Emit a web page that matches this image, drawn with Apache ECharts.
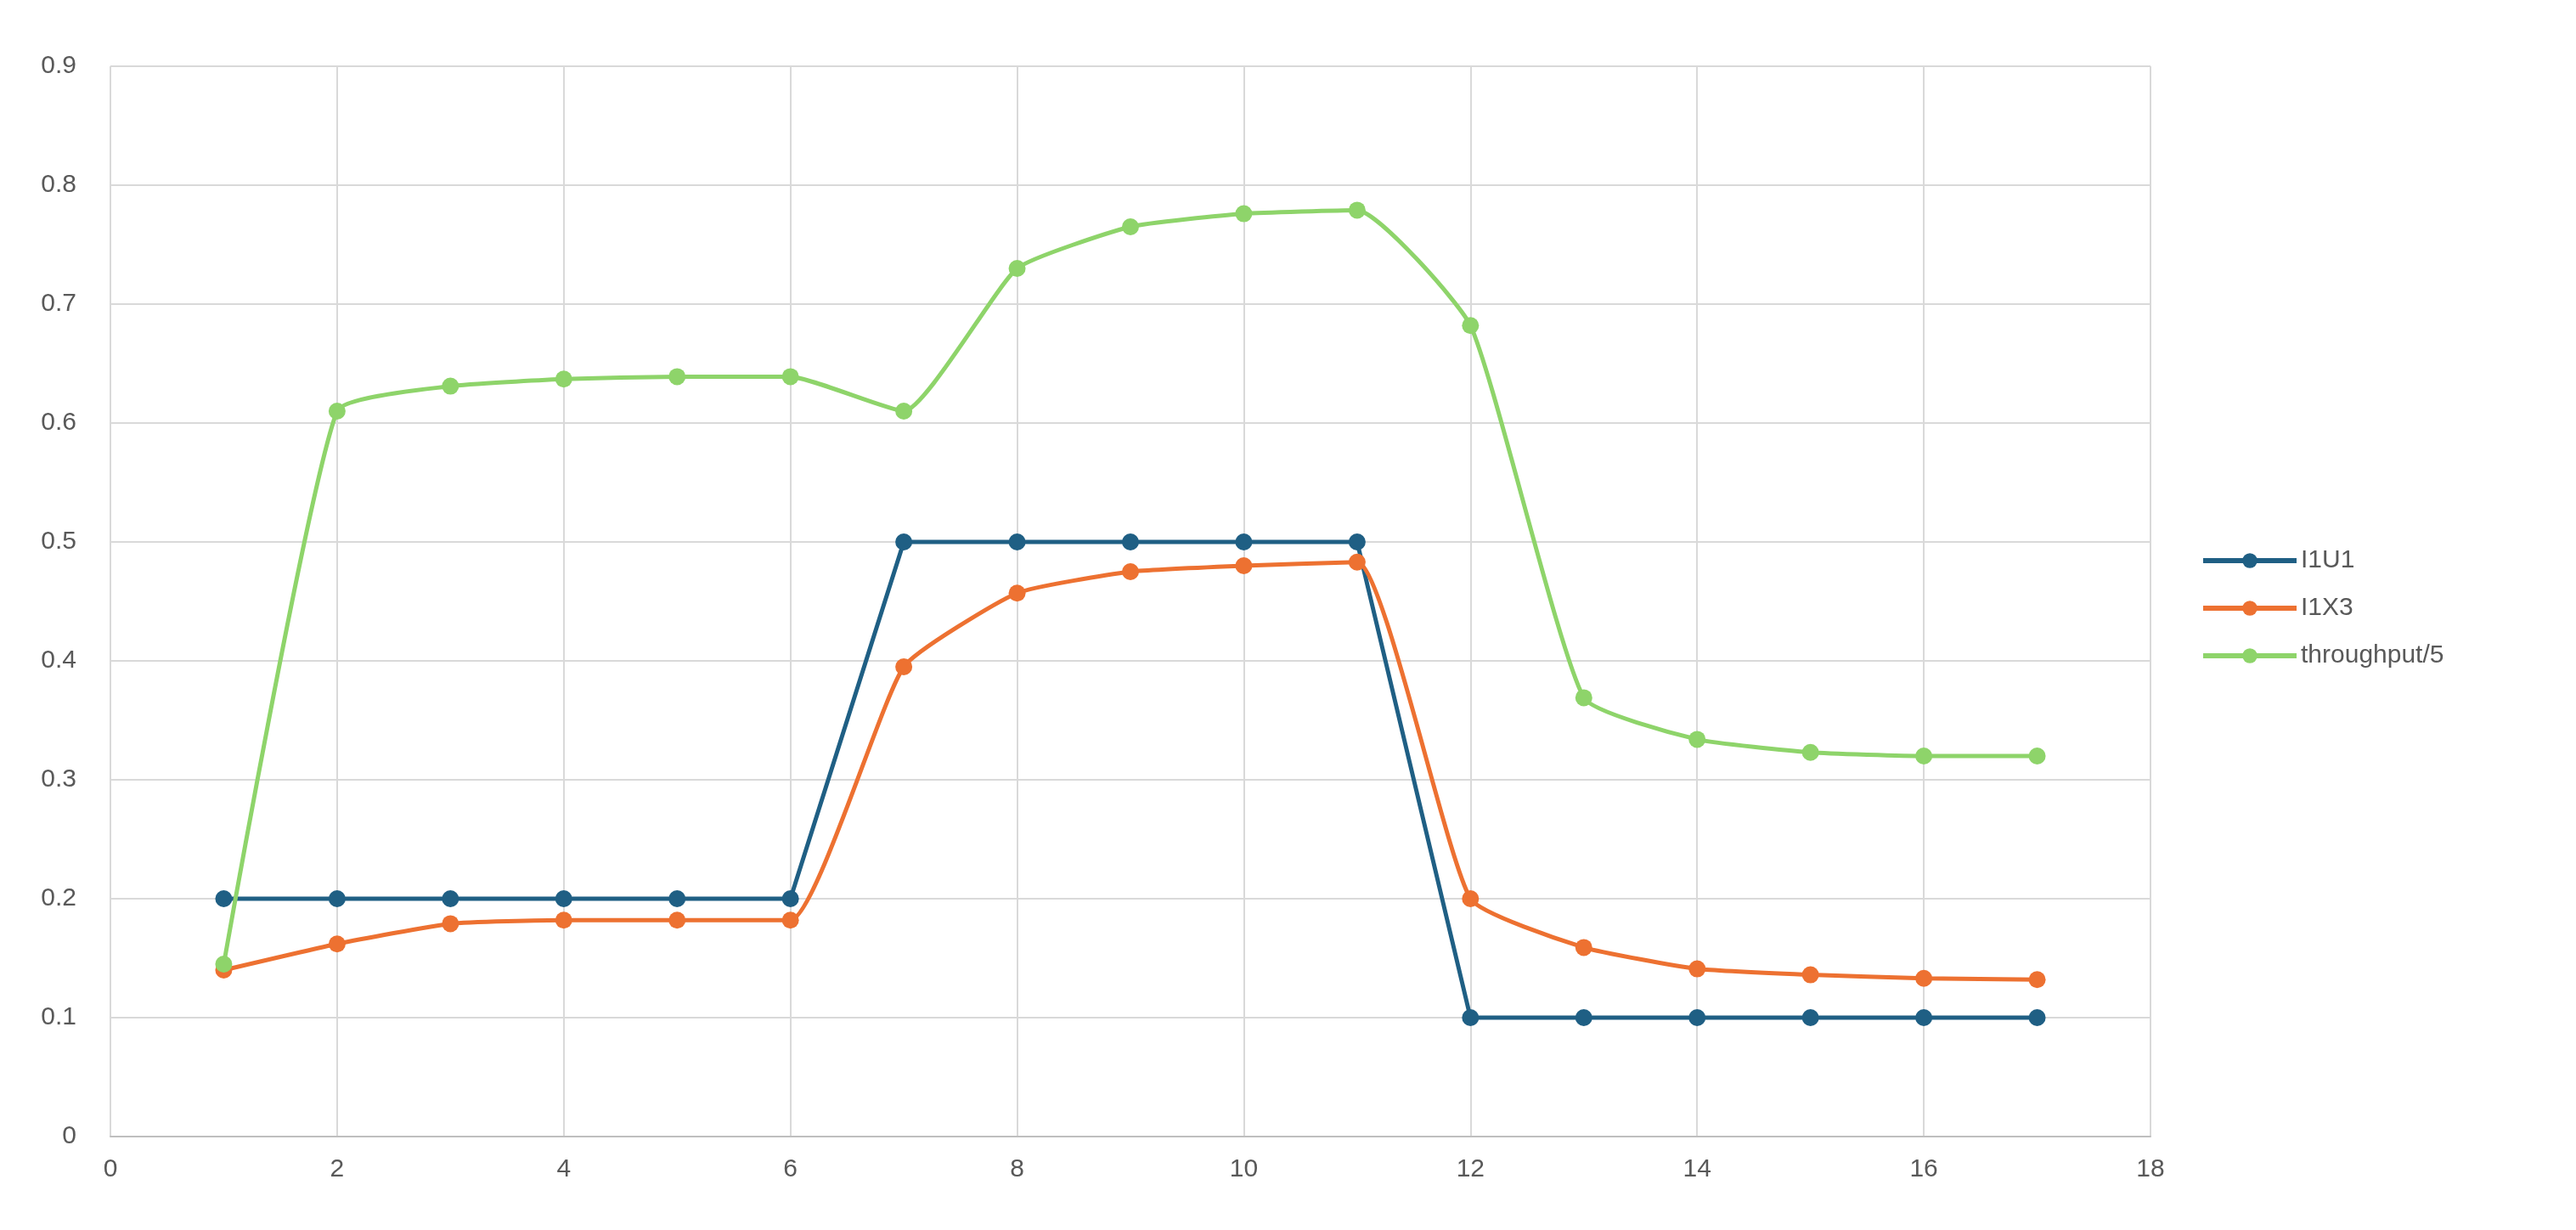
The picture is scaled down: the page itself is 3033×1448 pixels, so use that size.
<!doctype html>
<html>
<head>
<meta charset="utf8">
<title>chart</title>
<script src="https://cdn.jsdelivr.net/npm/echarts@6/dist/echarts.min.js"></script>
<style>html,body{margin:0;padding:0;background:#fff}#main{width:3033px;height:1448px}</style>
</head>
<body>
<div id="main"></div>
<script type="text/javascript">
var xs = [1, 2, 3, 4, 5, 6, 7, 8, 9, 10, 11, 12, 13, 14, 15, 16, 17];
var i1u1 = [0.2, 0.2, 0.2, 0.2, 0.2, 0.2, 0.5, 0.5, 0.5, 0.5, 0.5, 0.1, 0.1, 0.1, 0.1, 0.1, 0.1];
var i1x3 = [0.14, 0.162, 0.179, 0.182, 0.182, 0.182, 0.395, 0.457, 0.475, 0.48, 0.483, 0.2, 0.159, 0.141, 0.136, 0.133, 0.132];
var thr = [0.145, 0.61, 0.631, 0.637, 0.639, 0.639, 0.61, 0.73, 0.765, 0.776, 0.779, 0.682, 0.369, 0.334, 0.323, 0.32, 0.32];

function pairs(v) {
    return xs.map(function (x, i) { return [x, v[i]]; });
}

var myChart = echarts.init(document.getElementById('main'));
var lbl = { color: '#595959', fontSize: 30, fontFamily: 'Liberation Sans' };
function mk(name, data, color, smooth) {
    return {
        name: name, type: 'line', data: pairs(data), smooth: smooth ? 0.15 : false,
        symbol: 'circle', symbolSize: 20,
        lineStyle: { color: color, width: 5 }, itemStyle: { color: color }
    };
}
myChart.setOption({
    animation: false,
    grid: { left: 130, right: 501, top: 78, bottom: 110 },
    legend: {
        orient: 'vertical', left: 2586, top: 640, itemGap: 26,
        itemWidth: 110, itemHeight: 22, textStyle: lbl,
        lineStyle: { width: 6 },
        data: ['I1U1', 'I1X3', 'throughput/5']
    },
    xAxis: {
        type: 'value', min: 0, max: 18, interval: 2,
        axisLine: { lineStyle: { color: '#bfbfbf', width: 2 } },
        axisTick: { show: false },
        axisLabel: Object.assign({ margin: 24 }, lbl),
        splitLine: { lineStyle: { color: '#d9d9d9', width: 2 } }
    },
    yAxis: {
        type: 'value', min: 0, max: 0.9, interval: 0.1,
        axisLine: { show: false }, axisTick: { show: false },
        axisLabel: Object.assign({ margin: 40 }, lbl),
        splitLine: { lineStyle: { color: '#d9d9d9', width: 2 } }
    },
    series: [
        mk('I1U1', i1u1, '#1f5f84', false),
        mk('I1X3', i1x3, '#ed7131', true),
        mk('throughput/5', thr, '#8ed46a', true)
    ]
});
</script>
</body>
</html>
